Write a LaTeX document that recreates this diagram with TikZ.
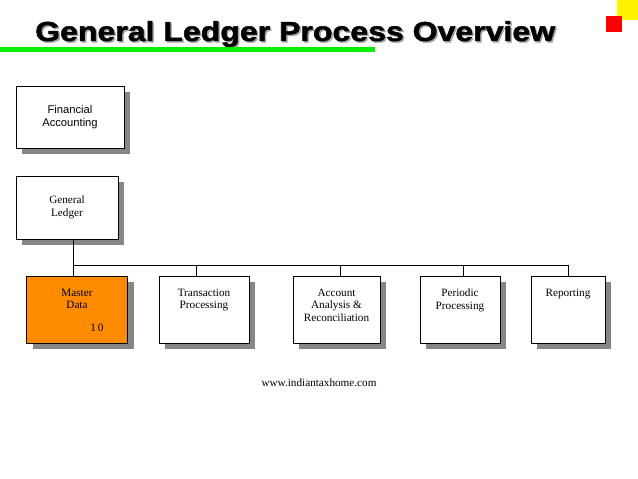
\documentclass[tikz,border=0pt]{standalone}
\usepackage{fontspec}
\setmainfont{Liberation Serif}
\newfontfamily\arialfont{Liberation Sans}
\newfontfamily\titlefont{Liberation Sans}[BoldFeatures={FakeBold=1.6}]
\usepackage{tikz}
\usetikzlibrary{shadows}
\usetikzlibrary{calc}

\begin{document}
\begin{tikzpicture}[x=1pt,y=-1pt,
    orgbox/.style={draw=black,fill=white,line width=0.9pt,
        drop shadow={shadow xshift=6pt,shadow yshift=-6pt,fill=gray!95,opacity=1}},
    boxtext/.style={font=\fontsize{11.2}{12.6}\selectfont,align=center,inner sep=0pt},
    titletext/.style={anchor=base west,font=\titlefont\bfseries\fontsize{27.5}{30}\selectfont,inner sep=0pt}
]

% page frame
\useasboundingbox (0,0) rectangle (638,479);

% Title bar
\node[titletext,text=gray!70] (titleshadow) at (36.5,42.5) {\scalebox{1.165}[1]{General Ledger Process Overview}};
\node[titletext] (title) at (35,41) {\scalebox{1.165}[1]{General Ledger Process Overview}};
\fill[green!90!black!60!green] (0,47) rectangle (375,52);

% corner squares
\fill[yellow] (617,0) rectangle (638,20);
\fill[red] (606,16) rectangle (622,32);

% Top boxes
\node[orgbox,minimum width=108pt,minimum height=62pt] (fin) at (70,117) {};
\node[boxtext,font=\arialfont\fontsize{11.2}{12.6}\selectfont] (fintext) at (fin.center) {Financial\\Accounting};

\node[orgbox,minimum width=102pt,minimum height=63pt] (gl) at (67,207.5) {};
\node[boxtext] (gltext) at (gl.center) {General\\Ledger};

% Bottom row
\node[orgbox,fill=orange!90!yellow,minimum width=101pt,minimum height=67pt] (md) at (77,309.5) {};
\node[boxtext,anchor=north] (mdtext) at ([yshift=-13pt]md.north) {Master\\Data};
\node[boxtext,anchor=base] (mdnum) at (97,331) {1\,0};

\node[orgbox,minimum width=90pt,minimum height=67pt] (tp) at (204,309.5) {};
\node[boxtext,anchor=north] (tptext) at ([yshift=-13pt]tp.north) {Transaction\\Processing};

\node[orgbox,minimum width=87pt,minimum height=67pt] (aa) at (336.5,309.5) {};
\node[boxtext,anchor=north] (aatext) at ([yshift=-13pt]aa.north) {Account\\Analysis \&\\Reconciliation};

\node[orgbox,minimum width=80pt,minimum height=67pt] (pp) at (460,309.5) {};
\node[boxtext,anchor=north] (pptext) at ([yshift=-13pt]pp.north) {Periodic\\Processing};

\node[orgbox,minimum width=74pt,minimum height=67pt] (rp) at (568,309.5) {};
\node[boxtext,anchor=north] (rptext) at ([yshift=-13pt]rp.north) {Reporting};

% Connectors
\coordinate (busL) at (73,265);
\coordinate (busR) at (568,265);
\draw (busL |- gl.south) -- (busL) -- (busR);
\draw (busL) -- (busL |- md.north);
\foreach \n/\dx in {tp/-8,aa/4,pp/3,rp/0}
    \draw ([xshift=\dx pt]\n.north) -- ([xshift=\dx pt]\n.north |- busL);

% footer
\node[boxtext] (web) at (319,383) {www.indiantaxhome.com};

\end{tikzpicture}
\end{document}
